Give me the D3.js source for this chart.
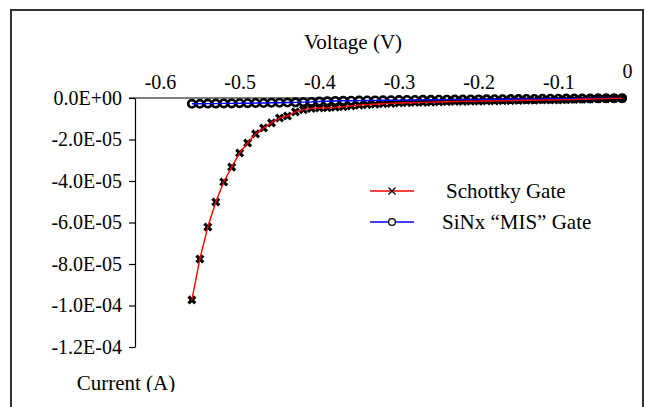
<!DOCTYPE html>
<html lang="en">
<head>
<meta charset="UTF-8">
<title>Gate leakage current</title>
<script src="https://d3js.org/d3.v7.min.js"></script>
<style>
    body { margin: 0; background: #fff; }
    svg, svg text { font-family: "Liberation Serif", Tinos, "Times New Roman", Times, "DejaVu Serif", serif !important; }
    .axis path, .axis line { stroke: #000; stroke-width: 1.2; }
    .axis text { font-size: 20px; fill: #000; }
</style>
</head>
<body>
<div id="chart"></div>
<script>
// Voltage sweep (V), same for both devices
const voltage = d3.range(55).map(i => +(-0.56 + i * 0.01).toFixed(2));

// Schottky gate current (A)
const schottky = [
    -9.73e-5, -7.76e-5, -6.22e-5, -5.01e-5, -4.05e-5, -3.33e-5, -2.65e-5, -2.17e-5,
    -1.73e-5, -1.45e-5, -1.20e-5, -9.6e-6, -8.7e-6, -6.7e-6, -5.6e-6, -5.0e-6,
    -4.8e-6, -4.7e-6, -4.5e-6, -4.2e-6, -3.8e-6, -3.5e-6, -3.2e-6, -3.0e-6,
    -2.8e-6, -2.6e-6, -2.4e-6, -2.3e-6, -2.2e-6, -2.1e-6, -2.0e-6, -1.9e-6,
    -1.8e-6, -1.7e-6, -1.65e-6, -1.6e-6, -1.5e-6, -1.45e-6, -1.4e-6, -1.3e-6,
    -1.25e-6, -1.2e-6, -1.1e-6, -1.05e-6, -1.0e-6, -0.95e-6, -0.9e-6, -0.8e-6,
    -0.7e-6, -0.6e-6, -0.5e-6, -0.4e-6, -0.3e-6, -0.2e-6, -0.1e-6
];

// SiNx "MIS" gate current (A)
const mis = [
    -2.8e-6, -2.8e-6, -2.7e-6, -2.7e-6, -2.6e-6, -2.6e-6, -2.5e-6, -2.5e-6,
    -2.4e-6, -2.4e-6, -2.3e-6, -2.3e-6, -2.2e-6, -2.1e-6, -2.0e-6, -1.9e-6,
    -1.7e-6, -1.6e-6, -1.45e-6, -1.35e-6, -1.3e-6, -1.25e-6, -1.2e-6, -1.15e-6,
    -1.1e-6, -1.05e-6, -1.0e-6, -0.97e-6, -0.94e-6, -0.9e-6, -0.87e-6, -0.84e-6,
    -0.8e-6, -0.77e-6, -0.74e-6, -0.7e-6, -0.67e-6, -0.64e-6, -0.6e-6, -0.57e-6,
    -0.54e-6, -0.5e-6, -0.47e-6, -0.44e-6, -0.4e-6, -0.37e-6, -0.34e-6, -0.3e-6,
    -0.27e-6, -0.24e-6, -0.2e-6, -0.17e-6, -0.14e-6, -0.1e-6, -0.07e-6
];

const xTicks = [-0.6, -0.5, -0.4, -0.3, -0.2, -0.1, 0];
const xTickLabels = ["-0.6", "-0.5", "-0.4", "-0.3", "-0.2", "-0.1", "0"];
const yTicks = [0, -2e-5, -4e-5, -6e-5, -8e-5, -1e-4, -1.2e-4];
const yTickLabels = ["0.0E+00", "-2.0E-05", "-4.0E-05", "-6.0E-05", "-8.0E-05", "-1.0E-04", "-1.2E-04"];
const seriesNames = ["Schottky Gate", "SiNx \u201cMIS\u201d Gate"];

const width = 645, height = 407;
const serif = "'Liberation Serif', Tinos, 'Times New Roman', serif";

const svg = d3.select("#chart").append("svg")
    .attr("width", width)
    .attr("height", height)
    .attr("font-family", serif);

// outer chart border (runs past the bottom edge)
svg.append("rect")
    .attr("x", 11).attr("y", 10)
    .attr("width", 632).attr("height", 430)
    .attr("fill", "#fff")
    .attr("stroke", "#333")
    .attr("stroke-width", 2);

const x = d3.scaleLinear().domain([-0.6, 0]).range([160, 638]);
const y = d3.scaleLinear().domain([0, -1.2e-4]).range([98, 347]);

// y axis at x = 135
svg.append("g")
    .attr("class", "axis")
    .attr("transform", "translate(135,0)")
    .call(d3.axisLeft(y)
        .tickValues(yTicks)
        .tickSize(6)
        .tickPadding(7)
        .tickSizeOuter(0)
        .tickFormat((d, i) => yTickLabels[i]))
    .attr("font-family", serif);

// x axis line on top, labels above, no tick marks
const xAxis = svg.append("g")
    .attr("class", "axis")
    .attr("transform", "translate(0,98)")
    .call(d3.axisTop(x)
        .tickValues(xTicks)
        .tickSize(0)
        .tickPadding(9)
        .tickFormat((d, i) => xTickLabels[i]))
    .attr("font-family", serif);
xAxis.select(".domain").attr("d", "M129,0H626");
xAxis.selectAll(".tick")
    .filter(d => d === 0)
    .select("text")
    .attr("dx", -11)
    .attr("dy", -11);

// axis titles
svg.append("text")
    .attr("x", 353).attr("y", 49)
    .attr("text-anchor", "middle")
    .attr("font-size", 21)
    .text("Voltage (V)");

svg.append("defs").append("clipPath").attr("id", "cut")
    .append("rect").attr("x", 0).attr("y", 0).attr("width", width).attr("height", 392);

svg.append("text")
    .attr("x", 126).attr("y", 390)
    .attr("text-anchor", "middle")
    .attr("font-size", 21)
    .attr("clip-path", "url(#cut)")
    .text("Current (A)");

const line = d3.line()
    .x((d, i) => x(voltage[i]))
    .y(d => y(d));

// MIS circles
svg.append("g").selectAll("circle")
    .data(mis)
    .join("circle")
    .attr("cx", (d, i) => x(voltage[i]))
    .attr("cy", d => y(d))
    .attr("r", 3.7)
    .attr("fill", "#fff")
    .attr("stroke", "#000")
    .attr("stroke-width", 2.6);

// Schottky x markers
const xm = 3.4;
svg.append("g").selectAll("path")
    .data(schottky)
    .join("path")
    .attr("transform", (d, i) => `translate(${x(voltage[i])},${y(d)})`)
    .attr("d", `M${-xm},${-xm}L${xm},${xm}M${-xm},${xm}L${xm},${-xm}`)
    .attr("stroke", "#000")
    .attr("stroke-width", 3.2);

svg.append("path")
    .datum(mis)
    .attr("d", line)
    .attr("fill", "none")
    .attr("stroke", "#0000ff")
    .attr("stroke-width", 1.4);

svg.append("path")
    .datum(schottky)
    .attr("d", line)
    .attr("fill", "none")
    .attr("stroke", "#ff0000")
    .attr("stroke-width", 1.4);

// legend
const legend = svg.append("g");
const rows = [
    { y: 191, color: "#ff0000", tx: 446 },
    { y: 222, color: "#0000ff", tx: 442 }
];
rows.forEach((r, i) => {
    legend.append("line")
        .attr("x1", 370).attr("x2", 414)
        .attr("y1", r.y).attr("y2", r.y)
        .attr("stroke", r.color)
        .attr("stroke-width", 1.4);
    if (i === 0) {
        legend.append("path")
            .attr("transform", `translate(392,${r.y})`)
            .attr("d", "M-3.5,-3.5L3.5,3.5M-3.5,3.5L3.5,-3.5")
            .attr("stroke", "#000")
            .attr("stroke-width", 1.3);
    } else {
        legend.append("circle")
            .attr("cx", 392).attr("cy", r.y).attr("r", 3.4)
            .attr("fill", "#fff")
            .attr("stroke", "#000")
            .attr("stroke-width", 1.3);
    }
    legend.append("text")
        .attr("x", r.tx).attr("y", r.y + 7)
        .attr("font-size", 21)
        .text(seriesNames[i]);
});
</script>
</body>
</html>
